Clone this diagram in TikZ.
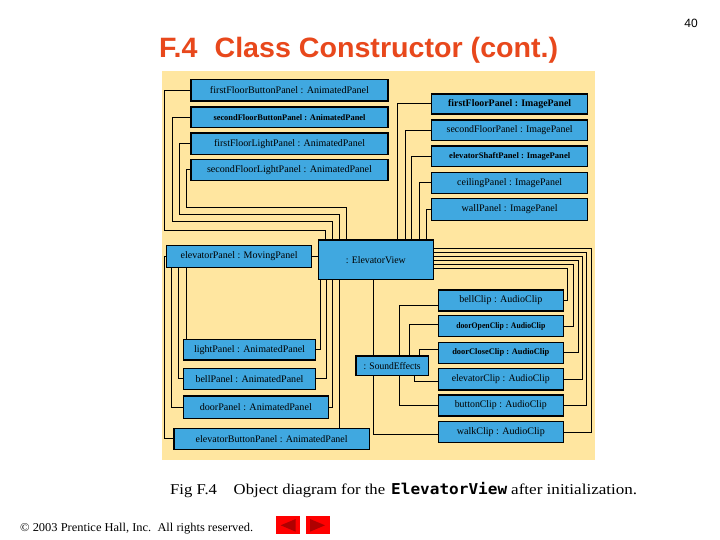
\documentclass[tikz,border=0pt]{standalone}
\usepackage{fontspec}
\usepackage{graphicx}
\setmainfont{Liberation Serif}
\newfontfamily\titlefont{Liberation Sans}
\newfontfamily\monofont{DejaVu Sans Mono}
\definecolor{panelyellow}{RGB}{255,230,160}
\definecolor{boxblue}{RGB}{64,168,224}
\definecolor{titlered}{RGB}{232,72,28}
\definecolor{btnred}{RGB}{255,0,0}
\definecolor{btndark}{RGB}{176,0,0}
\newcommand{\fw}[2]{\resizebox{#1pt}{\height}{#2}}
\newcommand{\obj}[7]{\node[objbox,minimum width={#4-#2},minimum height={#5-#3}] (#1) at ({(#2+#4)/2},{(#3+#5)/2}) {\fw{#6}{#7}};}
\newcommand{\smalllab}{\fontsize{8.5}{10}\selectfont\bfseries}
\tikzset{
  objbox/.style={draw=black,line width=1.2pt,fill=boxblue,inner sep=0pt,outer sep=0pt,font=\fontsize{10}{12}\selectfont,text=black},
  conn/.style={draw=black,line width=1pt},
}
\begin{document}
\begin{tikzpicture}[x=1pt,y=-1pt]
\useasboundingbox (0,0) rectangle (720,540);
\fill[white] (0,0) rectangle (720,540);
% title and page number
\node[anchor=base west,inner sep=0pt,text=titlered,font=\titlefont\fontsize{28}{32}\selectfont\bfseries] (title) at (159,58) {\fw{399}{F.4\hspace{0.6em}Class Constructor (cont.)}};
\node[inner sep=0pt,font=\titlefont\fontsize{12}{14}\selectfont] (pagenum) at (691,23) {40};
% panel background
\fill[panelyellow] (162,71) rectangle (595,459.5);
% objects
\obj{ffbp}{191}{79.3}{388}{101}{159}{firstFloorButtonPanel : AnimatedPanel}
\obj{sfbp}{191}{107}{388}{127.3}{152}{\smalllab secondFloorButtonPanel : AnimatedPanel}
\obj{fflp}{191}{133}{388}{154.3}{151}{firstFloorLightPanel : AnimatedPanel}
\obj{sflp}{191}{159.3}{388}{180.7}{165}{secondFloorLightPanel : AnimatedPanel}
\obj{ffp}{431.7}{94}{587.7}{114}{123}{\bfseries firstFloorPanel : ImagePanel}
\obj{sfp}{431.7}{120}{587.7}{140.3}{126}{secondFloorPanel : ImagePanel}
\obj{esp}{431.7}{146}{587.7}{166.3}{121}{\smalllab elevatorShaftPanel : ImagePanel}
\obj{cp}{431.7}{172.3}{587.7}{193.3}{105}{ceilingPanel : ImagePanel}
\obj{wp}{431.7}{198.3}{587.7}{220.7}{96}{wallPanel : ImagePanel}
\obj{ep}{166.7}{245.7}{311.5}{267.3}{117}{elevatorPanel : MovingPanel}
\obj{ev}{318.3}{240}{433.3}{279.3}{60}{: ElevatorView}
\obj{bell}{438.3}{290}{563.3}{311}{83}{bellClip : AudioClip}
\obj{dopen}{438.3}{315.7}{563.3}{336.7}{89}{\smalllab doorOpenClip : AudioClip}
\obj{dclose}{438.3}{342.3}{563.3}{363.3}{97}{\smalllab doorCloseClip : AudioClip}
\obj{elevc}{438.3}{368.3}{563.3}{390}{98}{elevatorClip : AudioClip}
\obj{button}{438.3}{395}{563.3}{416}{92}{buttonClip : AudioClip}
\obj{walk}{438.3}{421.7}{563.3}{442.3}{88}{walkClip : AudioClip}
\obj{lp}{183.3}{339.3}{315.7}{360}{111}{lightPanel : AnimatedPanel}
\obj{bp}{183.3}{368.3}{315.7}{389.3}{108}{bellPanel : AnimatedPanel}
\obj{dp}{183.3}{396}{328.3}{418.3}{112}{doorPanel : AnimatedPanel}
\obj{ebp}{174}{428.3}{369.3}{449.3}{152}{elevatorButtonPanel : AnimatedPanel}
\obj{se}{356}{356}{428.3}{375.7}{57}{: SoundEffects}
% left top group
\draw[conn] (ffbp.west) -| (164.3,231) -| (ev.north -| 325,0);
\draw[conn] (sfbp.west) -| (172.3,222) -| (ev.north -| 332.3,0);
\draw[conn] (fflp.west) -| (179,215) -| (ev.north -| 339.3,0);
\draw[conn] (sflp.west) -| (186.7,208) -| (ev.north -| 346,0);
% right top group
\draw[conn] (ffp.west) -| (ev.north -| 397.3,0);
\draw[conn] (sfp.west) -| (ev.north -| 405,0);
\draw[conn] (esp.west) -| (ev.north -| 411.7,0);
\draw[conn] (cp.west) -| (ev.north -| 419,0);
\draw[conn] (wp.west) -| (ev.north -| 426.5,0);
% elevator view to clips
\draw[conn] (ev.east |- 0,248.3) -- (591.7,248.3) |- (walk.east);
\draw[conn] (ev.east |- 0,252.3) -- (586.7,252.3) |- (button.east);
\draw[conn] (ev.east |- 0,256.3) -- (582.5,256.3) |- (elevc.east);
\draw[conn] (ev.east |- 0,260.3) -- (578,260.3) |- (dclose.east);
\draw[conn] (ev.east |- 0,264.3) -- (573.3,264.3) |- (dopen.east);
\draw[conn] (ev.east |- 0,268.3) -- (567.7,268.3) |- (bell.east);
% sound effects to clips
\draw[conn] (ev.south -| 373.3,0) -- (se.north -| 373.3,0);
\draw[conn] (se.north -| 399.3,0) |- ([yshift=-5pt]bell.west);
\draw[conn] (se.north -| 409.3,0) |- ([yshift=2pt]dopen.west);
\draw[conn] (se.north -| 419.3,0) |- ([yshift=3.8pt]dclose.west);
\draw[conn] (se.south -| 414.3,0) |- ([yshift=-2.7pt]elevc.west);
\draw[conn] (se.south -| 399.3,0) |- (button.west);
\draw[conn] (se.south -| 373.3,0) |- ([yshift=-2pt]walk.west);
% elevator panel
\draw[conn] (ep.east) -- (ev.west |- ep.east);
\draw[conn] (ep.west) -- ++(-2.4,0) |- (ebp.west);
\draw[conn] (ep.south -| 171.7,0) |- (dp.west);
\draw[conn] (ep.south -| 178.3,0) |- (bp.west);
\draw[conn] (ep.south -| 186,0) -- (lp.north -| 186,0);
% elevator view to lower panels
\draw[conn] (ev.south -| 320.7,0) |- (lp.east);
\draw[conn] (ev.south -| 326,0) |- (bp.east);
\draw[conn] (ev.south -| 332.3,0) |- (dp.east);
\draw[conn] (ev.south -| 339.3,0) -- (ebp.north -| 339.3,0);
% caption
\node[anchor=base west,inner sep=0pt,font=\fontsize{15}{18}\selectfont] (cap1) at (170,494) {\fw{215}{Fig F.4\quad Object diagram for the}};
\node[anchor=base west,inner sep=0pt,font=\monofont\fontsize{15}{18}\selectfont\bfseries] (cap2) at (391,494) {\fw{116}{ElevatorView}};
\node[anchor=base west,inner sep=0pt,font=\fontsize{15}{18}\selectfont] (cap3) at (511,494) {\fw{126}{after initialization.}};
% footer
\node[anchor=base west,inner sep=0pt,font=\fontsize{12}{14}\selectfont] (copy) at (20,531) {\fw{233}{© 2003 Prentice Hall, Inc.\ \ All rights reserved.}};
\node[draw=none,fill=btnred,minimum width=24,minimum height=18.5,inner sep=0pt] (prevbtn) at (288,525.2) {};
\node[draw=none,fill=btnred,minimum width=24.3,minimum height=18.5,inner sep=0pt] (nextbtn) at (317.8,525.2) {};
\fill[btndark] (280.7,525.3) -- (295.7,519) -- (295.7,531.7) -- cycle;
\fill[btndark] (325,525.3) -- (310,519) -- (310,531.7) -- cycle;
\end{tikzpicture}
\end{document}
